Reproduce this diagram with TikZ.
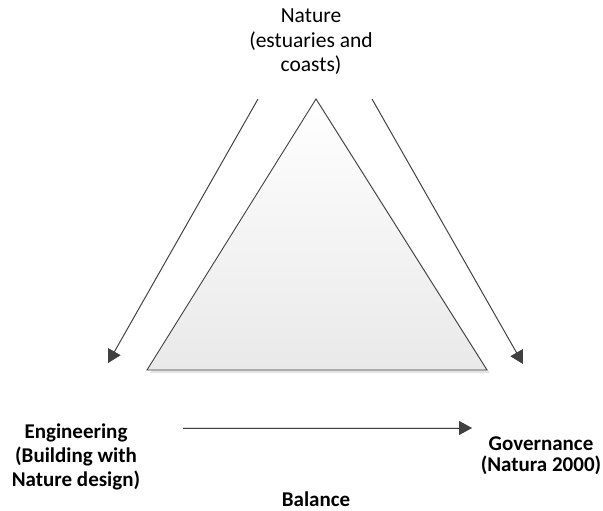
\documentclass[tikz,border=0pt]{standalone}
\usepackage{fontspec}
\setmainfont{Carlito}
\usetikzlibrary{arrows.meta}
\definecolor{linegray}{HTML}{404040}
\definecolor{shadowgray}{HTML}{DADADA}
\definecolor{fillbottom}{HTML}{E9E9E9}
\begin{document}
\begin{tikzpicture}[x=1pt,y=-1pt,
  tip/.style={-{Triangle[length=13pt,width=14pt]}},
  edge/.style={draw=linegray, line width=0.9pt, tip},
  edgeshadow/.style={draw=shadowgray, line width=1.1pt, tip},
  label/.style={font=\fontsize{21.5}{24.5}\selectfont, align=center, text=black, inner sep=0pt},
  boldlabel/.style={align=center, text=black, inner sep=0pt}]
  \useasboundingbox (0,0) rectangle (603,511);

  % triangle corners
  \coordinate (apex) at (316,99);
  \coordinate (bl) at (147,370);
  \coordinate (br) at (487,370);

  % soft shadow, then the shaded triangle
  \fill[shadowgray!70] ([shift={(3,3)}]apex) -- ([shift={(3,3)}]bl) -- ([shift={(3,3)}]br) -- cycle;
  \shade[top color=white, bottom color=fillbottom, draw=linegray, line width=0.9pt, line join=miter]
    (apex) -- (bl) -- (br) -- cycle;

  % labels
  \node[label] (nature) at (311,42) {Nature\\(estuaries and\\coasts)};
  \node[boldlabel, font=\fontsize{21}{24}\selectfont\bfseries] (eng) at (76,457) {Engineering\\(Building with\\Nature design)};
  \node[boldlabel, font=\fontsize{21}{21}\selectfont\bfseries] (gov) at (541,456) {Governance\\(Natura 2000)};
  \node[boldlabel, font=\fontsize{21}{24}\selectfont\bfseries] (bal) at (316,499) {Balance};

  % arrow ends
  \coordinate (l1) at (258,99);
  \coordinate (l2) at (108,363);
  \coordinate (r1) at (372,99);
  \coordinate (r2) at (523,364);
  \coordinate (b1) at (183,428);
  \coordinate (b2) at (472,428);

  % arrow shadows
  \begin{scope}[shift={(2.5,2)}]
    \draw[edgeshadow] (l1) -- (l2);
    \draw[edgeshadow] (r1) -- (r2);
    \draw[edgeshadow] (b1) -- (b2);
  \end{scope}

  % arrows
  \draw[edge] (l1) -- (l2);
  \draw[edge] (r1) -- (r2);
  \draw[edge] (b1) -- (b2);
\end{tikzpicture}
\end{document}
